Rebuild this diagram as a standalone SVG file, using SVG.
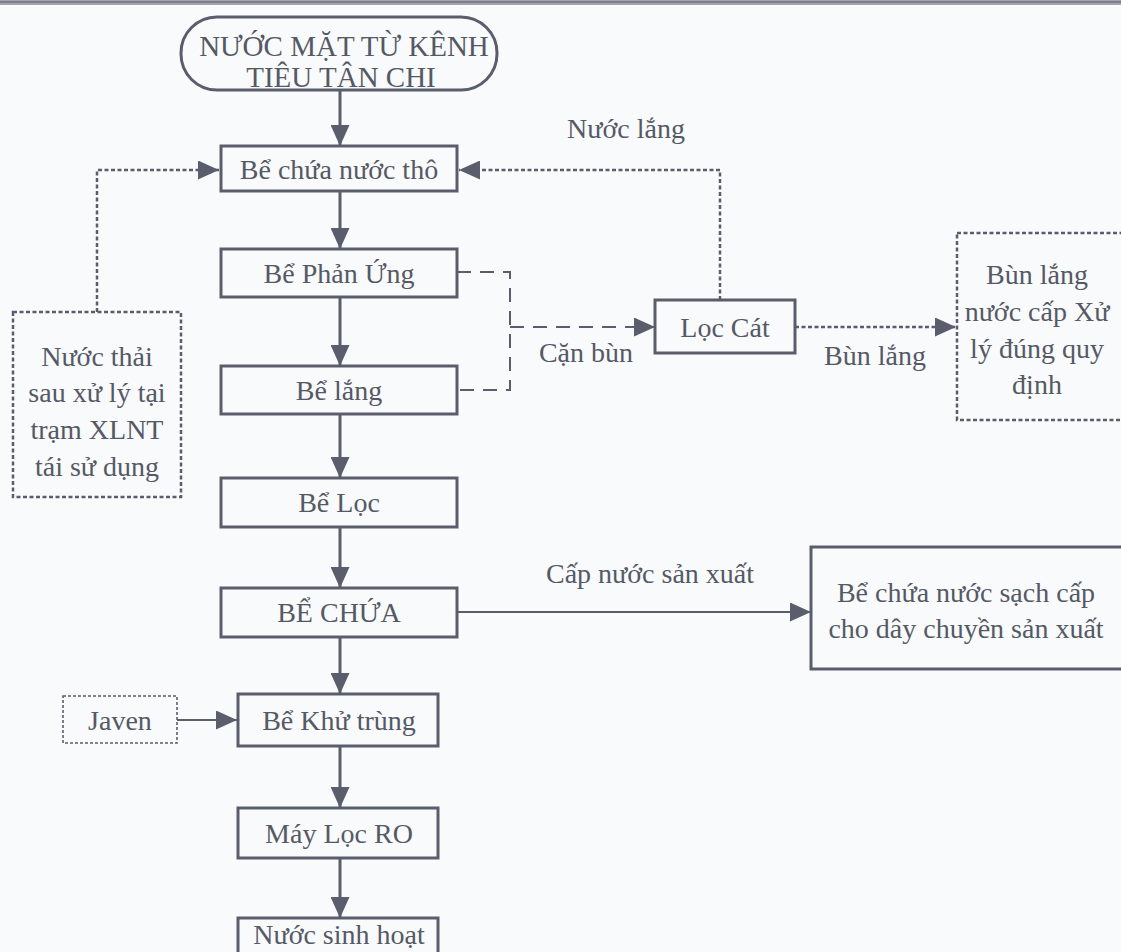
<svg xmlns="http://www.w3.org/2000/svg" width="1121" height="952" viewBox="0 0 1121 952">
  <defs>
    <style>
      .bg { fill: #f9fafb; }
      .box { fill: none; stroke: #5a5e6c; stroke-width: 3; }
      .dotbox { fill: none; stroke: #5a5e6c; stroke-width: 2.5; stroke-dasharray: 4 2.5; }
      .thin { fill: none; stroke: #5a5e6c; stroke-width: 1.6; stroke-dasharray: 3 2; }
      .flow { fill: none; stroke: #5a5e6c; stroke-width: 3; }
      .flow2 { fill: none; stroke: #5a5e6c; stroke-width: 2; }
      .dotted { fill: none; stroke: #5a5e6c; stroke-width: 2.5; stroke-dasharray: 4 2.5; }
      .dashed { fill: none; stroke: #5a5e6c; stroke-width: 2; stroke-dasharray: 14 9; }
      text { font-family: "Liberation Serif", "Times New Roman", serif; font-size: 28px; fill: #555966; text-anchor: middle; }
      .big { font-size: 29px; }
    </style>
    <marker id="head" viewBox="0 0 10 10" refX="10" refY="5" markerWidth="21" markerHeight="19" markerUnits="userSpaceOnUse" orient="auto" preserveAspectRatio="none">
      <path d="M0,0 L10,5 L0,10 z" fill="#5a5e6c"/>
    </marker>
  </defs>

  <rect class="bg" x="0" y="0" width="1121" height="952"/>
  <!-- page rule along the top edge -->
  <rect x="0" y="0" width="1121" height="5" fill="#a3a5ad"/>
  <line x1="0" y1="2" x2="1121" y2="2" stroke="#7c7f89" stroke-width="2"/>

  <g id="connectors">
    <!-- main vertical flow -->
    <line class="flow" x1="340" y1="90" x2="340" y2="146" marker-end="url(#head)"/>
    <line class="flow" x1="340" y1="191" x2="340" y2="249" marker-end="url(#head)"/>
    <line class="flow" x1="340" y1="297" x2="340" y2="366" marker-end="url(#head)"/>
    <line class="flow" x1="340" y1="414" x2="340" y2="478" marker-end="url(#head)"/>
    <line class="flow" x1="340" y1="527" x2="340" y2="588" marker-end="url(#head)"/>
    <line class="flow" x1="340" y1="637" x2="340" y2="694" marker-end="url(#head)"/>
    <line class="flow" x1="340" y1="746" x2="340" y2="808" marker-end="url(#head)"/>
    <line class="flow" x1="340" y1="858" x2="340" y2="918" marker-end="url(#head)"/>

    <!-- reused treated wastewater back to raw water tank -->
    <polyline class="dotted" points="97,312 97,170 219,170" marker-end="url(#head)"/>
    <!-- settled water from sand filter back to raw water tank -->
    <polyline class="dotted" points="720,300 720,170 459,170" marker-end="url(#head)"/>

    <!-- sludge from reaction and settling tanks -->
    <polyline class="dashed" points="457,272 510,272 510,390 457,390"/>
    <line class="dashed" x1="510" y1="327" x2="655" y2="327" marker-end="url(#head)"/>
    <text x="586" y="362">Cặn bùn</text>

    <!-- sludge out of sand filter -->
    <line class="dotted" x1="795" y1="327" x2="956" y2="327" marker-end="url(#head)"/>
    <text x="875" y="365">Bùn lắng</text>

    <text x="626" y="138">Nước lắng</text>

    <!-- production water supply -->
    <line class="flow2" x1="457" y1="612" x2="811" y2="612" marker-end="url(#head)"/>
    <text x="650" y="583">Cấp nước sản xuất</text>

    <!-- chlorine dosing -->
    <line class="flow2" x1="177" y1="720" x2="237" y2="720" marker-end="url(#head)"/>
  </g>

  <g id="node-source">
    <rect class="box" x="181" y="17" width="316" height="73" rx="36" ry="36"/>
    <text class="big" x="344" y="56">NƯỚC MẶT TỪ KÊNH</text>
    <text class="big" x="341" y="87">TIÊU TÂN CHI</text>
  </g>

  <g id="node-raw-tank">
    <rect class="box" x="221" y="146" width="236" height="45"/>
    <text x="339" y="179">Bể chứa nước thô</text>
  </g>

  <g id="node-reaction">
    <rect class="box" x="221" y="249" width="236" height="48"/>
    <text x="339" y="283">Bể Phản Ứng</text>
  </g>

  <g id="node-settling">
    <rect class="box" x="221" y="366" width="236" height="48"/>
    <text x="339" y="400">Bể lắng</text>
  </g>

  <g id="node-filter">
    <rect class="box" x="221" y="478" width="236" height="49"/>
    <text x="339" y="512">Bể Lọc</text>
  </g>

  <g id="node-storage">
    <rect class="box" x="221" y="588" width="236" height="49"/>
    <text x="339" y="622">BỂ CHỨA</text>
  </g>

  <g id="node-disinfection">
    <rect class="box" x="238" y="694" width="200" height="52"/>
    <text x="339" y="730">Bể Khử trùng</text>
  </g>

  <g id="node-ro">
    <rect class="box" x="238" y="808" width="200" height="50"/>
    <text x="339" y="843">Máy Lọc RO</text>
  </g>

  <g id="node-domestic">
    <rect class="box" x="238" y="918" width="200" height="40"/>
    <text x="339" y="944">Nước sinh hoạt</text>
  </g>

  <g id="node-javen">
    <rect class="thin" x="63" y="696" width="114" height="47"/>
    <text x="120" y="730">Javen</text>
  </g>

  <g id="node-reuse">
    <rect class="dotbox" x="13" y="312" width="168" height="185"/>
    <text x="97" y="366">Nước thải</text>
    <text x="97" y="402">sau xử lý tại</text>
    <text x="97" y="439">trạm XLNT</text>
    <text x="97" y="476">tái sử dụng</text>
  </g>

  <g id="node-sand-filter">
    <rect class="box" x="655" y="300" width="140" height="53"/>
    <text x="725" y="337">Lọc Cát</text>
  </g>

  <g id="node-sludge">
    <rect class="dotbox" x="957" y="233" width="170" height="187"/>
    <text x="1037" y="284">Bùn lắng</text>
    <text x="1037" y="321">nước cấp Xử</text>
    <text x="1037" y="358">lý đúng quy</text>
    <text x="1037" y="394">định</text>
  </g>

  <g id="node-clean-tank">
    <rect class="box" x="811" y="547" width="320" height="122"/>
    <text x="966" y="602">Bể chứa nước sạch cấp</text>
    <text x="966" y="638">cho dây chuyền sản xuất</text>
  </g>
</svg>
